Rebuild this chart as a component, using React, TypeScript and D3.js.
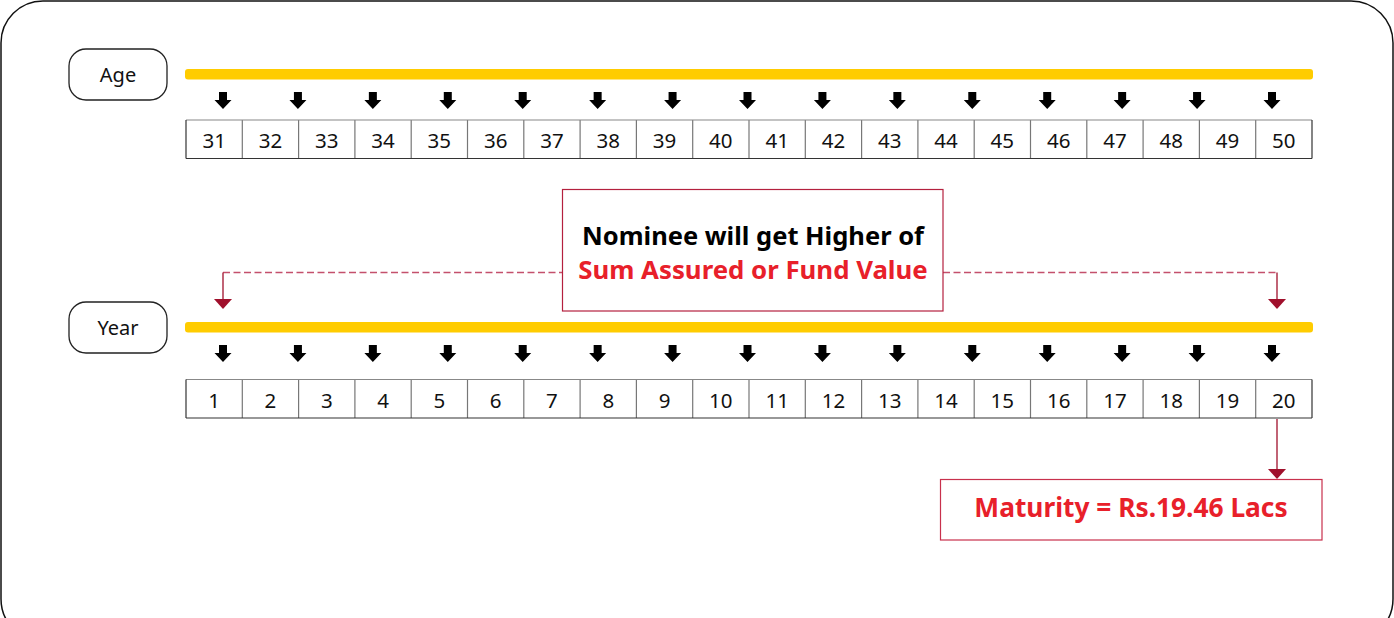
import React from "react";
import * as d3 from "d3";

const ages = ["31","32","33","34","35","36","37","38","39","40","41","42","43","44","45","46","47","48","49","50"];
const years = ["1","2","3","4","5","6","7","8","9","10","11","12","13","14","15","16","17","18","19","20"];
const arrowSlots = [0,1,2,3,4,5,6,7,8,9,10,11,12,13,14];
const rowLabels = ["Age", "Year"];
const calloutLines = ["Nominee will get Higher of", "Sum Assured or Fund Value"];
const maturityText = "Maturity = Rs.19.46 Lacs";

const W = 1394, H = 618;
const FONT = "'Noto Sans', sans-serif";
const YELLOW = "#FFCC00";
const RED = "#E8202A";
const DARKRED = "#A0102C";

function Arrow({ x, y }: { x: number; y: number }) {
  const p = `M${x - 4},${y} L${x + 4},${y} L${x + 4},${y + 8} L${x + 8.5},${y + 8} L${x},${y + 17} L${x - 8.5},${y + 8} L${x - 4},${y + 8} Z`;
  return <path d={p} fill="#000" />;
}

function Row({ top, cellTop, label, cells }: { top: number; cellTop: number; label: string; cells: string[] }) {
  const band = d3.scaleBand<string>().domain(cells).range([186, 1312]).padding(0);
  const ax = d3.scaleLinear().domain([0, 14]).range([223, 1272]);
  const cellH = 38.5;
  return (
    <g>
      <rect x={69} y={top} width={98} height={51} rx={17} fill="#fff" stroke="#222" strokeWidth={1.3} />
      <text x={118} y={top + 33} textAnchor="middle" fontFamily={FONT} fontSize={20} fill="#111">{label}</text>
      <rect x={185} y={top + 20} width={1128} height={10.5} rx={3} fill={YELLOW} />
      {arrowSlots.map((i) => <Arrow key={i} x={ax(i)} y={top + 43} />)}
      {cells.map((c, i) => (
        <g key={c}>
          {i > 0 && <line x1={band(c)!} x2={band(c)!} y1={cellTop} y2={cellTop + cellH} stroke="#777" strokeWidth={1.2} />}
          <text x={band(c)! + band.bandwidth() / 2} y={cellTop + 28} textAnchor="middle" fontFamily={FONT} fontSize={20.5} fill="#111">{c}</text>
        </g>
      ))}
      <line x1={186} x2={1312} y1={cellTop} y2={cellTop} stroke="#888" strokeWidth={1.2} />
      <line x1={186} x2={1312} y1={cellTop + cellH} y2={cellTop + cellH} stroke="#333" strokeWidth={1.2} />
      <line x1={186} x2={186} y1={cellTop} y2={cellTop + cellH} stroke="#333" strokeWidth={1.2} />
      <line x1={1312} x2={1312} y1={cellTop} y2={cellTop + cellH} stroke="#333" strokeWidth={1.2} />
    </g>
  );
}

function Head({ x, y }: { x: number; y: number }) {
  return <path d={`M${x - 9},${y - 10} L${x + 9},${y - 10} L${x},${y} Z`} fill={DARKRED} />;
}

export default function App() {
  const ax = d3.scaleLinear().domain([0, 14]).range([223, 1272]);
  const xl = ax(0);
  const xr = 1277;
  const dashY = 272.5;
  return (
    <div style={{ position: "fixed", left: 0, top: 0 }}>
      <svg width={W} height={H} style={{ display: "block" }}>
        <rect x={0} y={0} width={W} height={H} fill="#fff" />
        <rect x={1} y={1} width={1392} height={640} rx={42} fill="#fff" stroke="#111" strokeWidth={1.5} />
        <Row top={49} cellTop={120} label={rowLabels[0]} cells={ages} />
        <Row top={302} cellTop={379.5} label={rowLabels[1]} cells={years} />

        <line x1={xl} x2={562} y1={dashY} y2={dashY} stroke="#C4506C" strokeWidth={1.3} strokeDasharray="7 3.5" />
        <line x1={943} x2={xr} y1={dashY} y2={dashY} stroke="#C4506C" strokeWidth={1.3} strokeDasharray="7 3.5" />
        <line x1={xl} x2={xl} y1={dashY} y2={300} stroke={DARKRED} strokeWidth={1.3} />
        <line x1={xr} x2={xr} y1={dashY} y2={300} stroke={DARKRED} strokeWidth={1.3} />
        <Head x={xl} y={309} />
        <Head x={xr} y={309} />

        <rect x={562.5} y={189.5} width={380.5} height={121.5} fill="#fff" stroke="#B4203E" strokeWidth={1.2} />
        <text x={753} y={245} textAnchor="middle" fontFamily={FONT} fontWeight={700} fontSize={25.5} fill="#000">{calloutLines[0]}</text>
        <text x={753} y={279} textAnchor="middle" fontFamily={FONT} fontWeight={700} fontSize={25.8} fill={RED}>{calloutLines[1]}</text>

        <line x1={xr} x2={xr} y1={419} y2={470} stroke={DARKRED} strokeWidth={1.3} />
        <Head x={xr} y={479} />
        <rect x={940.5} y={479.5} width={381.5} height={60.5} fill="#fff" stroke="#C8304C" strokeWidth={1.2} />
        <text x={1131} y={517} textAnchor="middle" fontFamily={FONT} fontWeight={700} fontSize={26.3} fill={RED}>{maturityText}</text>
      </svg>
    </div>
  );
}
